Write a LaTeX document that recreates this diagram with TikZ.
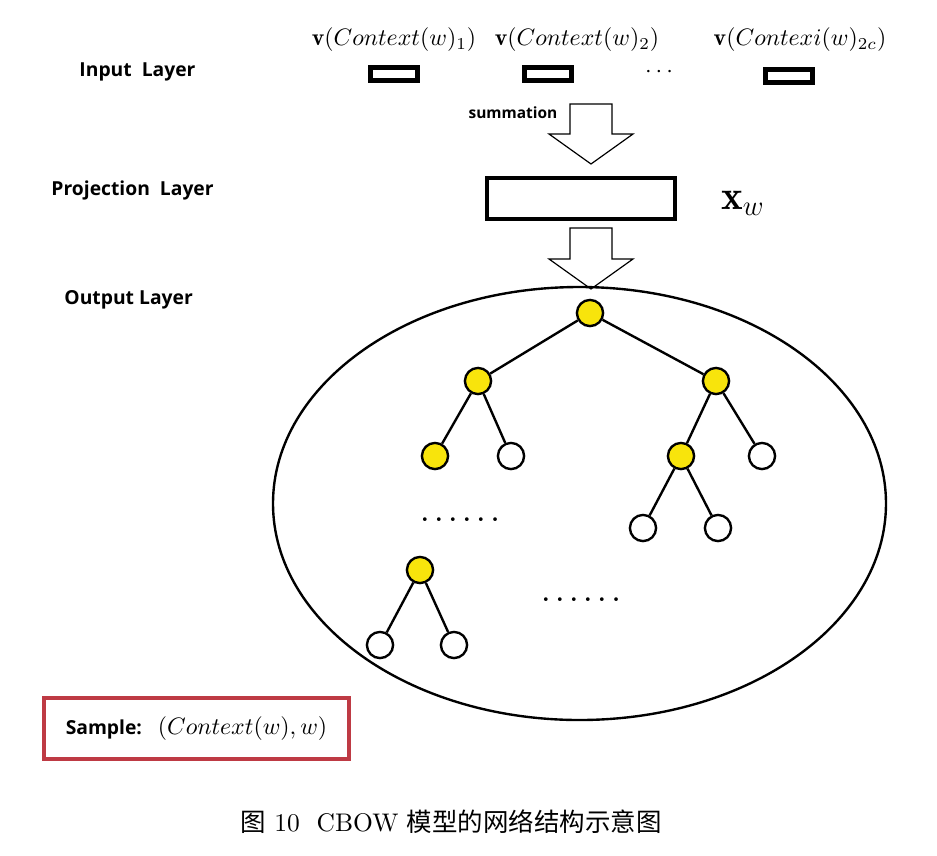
\documentclass[tikz,border=0pt]{standalone}
\usepackage{amsmath,amssymb}
\usepackage{fontspec}
\usepackage{xcolor}
\newfontfamily\layerfont{Open Sans}
\newfontfamily\cjk{Noto Sans CJK SC}
\usetikzlibrary{shapes.geometric, positioning}
\definecolor{nodeyellow}{RGB}{248,228,12}
\definecolor{boxred}{RGB}{190,58,68}
\newcommand{\dotgap}{\hspace{2.7pt}}

\tikzset{
  layer/.style={font=\layerfont\bfseries\fontsize{8.1}{10}\selectfont, anchor=west, inner sep=0pt},
  inbox/.style={draw, line width=2pt, minimum width=20pt, minimum height=5.5pt, inner sep=0pt},
  hnode/.style={circle, draw, line width=1pt, minimum size=11pt, inner sep=0pt},
  used/.style={hnode, fill=nodeyellow},
  unused/.style={hnode, fill=white},
  edge/.style={line width=1pt},
  blockarrow/.style={line width=0.5pt, fill=white},
  dots/.style={font=\bfseries, inner sep=0pt},
}

\begin{document}
\begin{tikzpicture}[x=0.42pt, y=-0.42pt]
\useasboundingbox (0,0) rectangle (937,855);

% layer names
\node[layer] (inlabel) at (79,72) {Input\ \ Layer};
\node[layer] (projlabel) at (51,190) {Projection\ \ Layer};
\node[layer] (outlabel) at (64,300) {Output Layer};

% input word vectors
\node (v1) at (394,40) {$\mathbf{v}(Context(w)_1)$};
\node (v2) at (577,40) {$\mathbf{v}(Context(w)_2)$};
\node (v3) at (800,40) {$\mathbf{v}(Contexi(w)_{2c})$};
\node[inbox] (in1) at (394,74) {};
\node[inbox] (in2) at (548,74) {};
\node[inbox] (in3) at (789,76) {};
\node (indots) at (661,72) {$\cdots$};

% summation arrow
\node[font=\layerfont\bfseries\fontsize{6.5}{8}\selectfont] (sum) at (513,113) {summation};
\draw[blockarrow] (570,104) -- (612,104) -- (612,134) -- (633,134) -- (591,164)
  -- (549,134) -- (570,134) -- cycle;

% projection
\node[draw, line width=1.8pt, minimum width=79pt, minimum height=17pt, inner sep=0pt] (proj) at (581,198.5) {};
\node[font=\LARGE] (xw) at (743,203) {$\mathbf{x}_w$};

% arrow to output layer
\draw[blockarrow] (570,228) -- (612,228) -- (612,259) -- (633,259) -- (591,289)
  -- (549,259) -- (570,259) -- cycle;

% output layer: Huffman tree
\draw[line width=1pt] (579.5,503.5) ellipse [x radius=306.5, y radius=216.5];

\node[used] (root) at (590,313) {};
\node[used] (l) at (478,381) {};
\node[used] (r) at (716,381) {};
\node[used] (ll) at (435,456) {};
\node[unused] (lr) at (511,456) {};
\node[used] (rl) at (681,456) {};
\node[unused] (rr) at (762,456) {};
\node[unused] (rll) at (643,528) {};
\node[unused] (rlr) at (718,528) {};
\node[used] (s) at (420,570) {};
\node[unused] (sl) at (380,645) {};
\node[unused] (sr) at (454,645) {};

\draw[edge] (root) -- (l);
\draw[edge] (root) -- (r);
\draw[edge] (l) -- (ll);
\draw[edge] (l) -- (lr);
\draw[edge] (r) -- (rl);
\draw[edge] (r) -- (rr);
\draw[edge] (rl) -- (rll);
\draw[edge] (rl) -- (rlr);
\draw[edge] (s) -- (sl);
\draw[edge] (s) -- (sr);

\node[dots] (dotsa) at (460,520) {.\dotgap.\dotgap.\dotgap.\dotgap.\dotgap.};
\node[dots] (dotsb) at (581,600) {.\dotgap.\dotgap.\dotgap.\dotgap.\dotgap.};

% sample box
\node[draw=boxred, line width=1.7pt, minimum width=128pt, minimum height=26pt] (sample) at (196.5,728.5)
  {{\layerfont\bfseries\fontsize{8.1}{10}\selectfont Sample:}\ \ $(Context(w),w)$};

% caption
\node[font=\fontsize{10.7}{13}\selectfont] (caption) at (451,822) {{\cjk 图}~10~~CBOW~{\cjk 模型的网络结构示意图}};
\end{tikzpicture}
\end{document}
